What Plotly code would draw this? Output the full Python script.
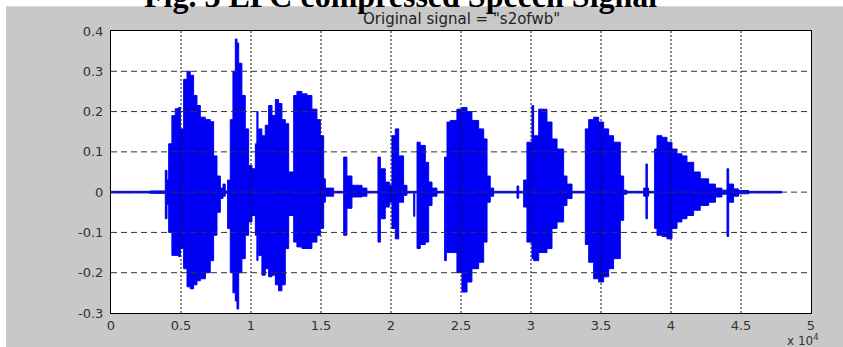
import plotly.graph_objects as go

# ---- data (envelope of the speech waveform) ----
sample_pos = [0, 2800, 3880, 4000, 4120, 4350, 4590, 4830, 4950, 5190, 5430, 5660, 5900, 6140,
              6380, 6740, 7090, 7330, 7570, 7810, 8000, 8160, 8330, 8520, 8710, 8880, 9000, 9120,
              9350, 9590, 9830, 10070, 10310, 10420, 10500, 10550, 10780, 11020, 11260, 11500,
              11740, 11970, 12210, 12450, 12690, 13050, 13280, 13640, 14000, 14350, 14710, 14950,
              15190, 15310, 15900, 16620, 16850, 17210, 17930, 18280, 19070, 19240, 19590, 19880,
              20070, 20310, 20550, 20900, 21140, 21620, 21700, 21860, 22090, 22450, 22690, 22930,
              23280, 23830, 23950, 24000, 24240, 24710, 25070, 25430, 25780, 26260, 26620, 26860,
              27090, 27330, 29000, 29120, 29475, 29710, 30070, 30190, 30550, 31140, 31500, 31860,
              32330, 32570, 32930, 33880, 34120, 34475, 34830, 35190, 35550, 35900, 36380, 36620,
              36850, 38050, 38210, 38310, 38400, 38830, 39000, 39355, 39710, 40070, 40430, 40780,
              41140, 41620, 42090, 42690, 43170, 43640, 44000, 44120, 44470, 44830, 45550, 47930]

upper_env = [0.002, 0.003, 0.054, 0.03, 0.12, 0.19, 0.207, 0.21, 0.157, 0.28, 0.30, 0.29, 0.24, 0.215,
             0.186, 0.18, 0.175, 0.09, 0.04, 0.01, 0.02, 0.003, 0.03, 0.18, 0.30, 0.38, 0.37, 0.32,
             0.24, 0.157, 0.066, 0.058, 0.12, 0.20, 0.12, 0.157, 0.14, 0.166, 0.215, 0.19,
             0.23, 0.22, 0.18, 0.17, 0.05, 0.24, 0.25, 0.244, 0.24, 0.206, 0.18, 0.14,
             0.033, 0.01, 0.002, 0.087, 0.04, 0.017, 0.01, 0.002, 0.087, 0.058, 0.025, 0.017,
             0.14, 0.157, 0.09, 0.017, 0.002, 0.002, 0.002, 0.124, 0.116, 0.074, 0.025, 0.01,
             0.002, 0.087, 0.01, 0.174, 0.178, 0.206, 0.21, 0.20, 0.178, 0.157, 0.132, 0.04,
             0.01, 0.002, 0.015, 0.002, 0.03, 0.124, 0.215, 0.14, 0.206, 0.174, 0.132, 0.107,
             0.04, 0.02, 0.002, 0.157, 0.18, 0.186, 0.174, 0.157, 0.14, 0.124, 0.04, 0.005,
             0.002, 0.01, 0.07, 0.01, 0.002, 0.107, 0.14, 0.136, 0.124, 0.107, 0.095, 0.09,
             0.074, 0.05, 0.033, 0.02, 0.01, 0.005, 0.058, 0.02, 0.008, 0.004, 0.002, 0.001]

lower_env = [-0.002, -0.003, -0.066, -0.03, -0.10, -0.157, -0.157, -0.16, -0.14, -0.19, -0.235, -0.24, -0.23, -0.22,
             -0.215, -0.20, -0.17, -0.107, -0.05, -0.016, -0.01, -0.003, -0.09, -0.20, -0.25, -0.27, -0.29, -0.20,
             -0.165, -0.107, -0.074, -0.058, -0.107, -0.17, -0.107, -0.157, -0.206, -0.19, -0.21, -0.206,
             -0.23, -0.245, -0.23, -0.14, -0.058, -0.124, -0.136, -0.14, -0.14, -0.124, -0.107, -0.09,
             -0.025, -0.01, -0.002, -0.107, -0.04, -0.012, -0.01, -0.002, -0.124, -0.066, -0.037, -0.025,
             -0.09, -0.116, -0.025, -0.008, -0.002, -0.06, -0.002, -0.14, -0.13, -0.124, -0.033, -0.01,
             -0.002, -0.17, -0.01, -0.15, -0.15, -0.20, -0.248, -0.223, -0.19, -0.174, -0.124, -0.025,
             -0.01, -0.002, -0.015, -0.002, -0.037, -0.124, -0.165, -0.17, -0.15, -0.14, -0.09, -0.074,
             -0.033, -0.016, -0.002, -0.13, -0.174, -0.215, -0.223, -0.21, -0.19, -0.165, -0.07, -0.005,
             -0.002, -0.01, -0.066, -0.01, -0.002, -0.09, -0.107, -0.11, -0.116, -0.09, -0.074, -0.066,
             -0.058, -0.045, -0.033, -0.025, -0.012, -0.005, -0.11, -0.025, -0.01, -0.004, -0.002, -0.001]

x_tick_vals = [0, 5000, 10000, 15000, 20000, 25000, 30000, 35000, 40000, 45000, 50000]
x_tick_text = ["0", "0.5", "1", "1.5", "2", "2.5", "3", "3.5", "4", "4.5", "5"]
y_tick_vals = [0.4, 0.3, 0.2, 0.1, 0.0, -0.1, -0.2, -0.3]
y_tick_text = ["0.4", "0.3", "0.2", "0.1", "0", "-0.1", "-0.2", "-0.3"]

chart_title = 'Original signal = "s2ofwb"'
caption = "Fig. 3 LPC compressed Speech Signal"

BLUE = "#0000f5"
GRAY_BG = "#c8c8c8"
TICK_FONT = dict(family="DejaVu Sans", size=13, color="#333333")

fig = go.Figure()
fig.add_trace(go.Scatter(x=sample_pos, y=lower_env, mode="lines",
                         line=dict(color=BLUE, width=1, shape="hv"),
                         hoverinfo="skip", showlegend=False))
fig.add_trace(go.Scatter(x=sample_pos, y=upper_env, mode="lines", fill="tonexty",
                         fillcolor=BLUE, line=dict(color=BLUE, width=1, shape="hv"),
                         hoverinfo="skip", showlegend=False))

shapes = []
# white margin at top and left of the grey figure area
shapes.append(dict(type="rect", xref="paper", yref="paper", x0=-0.3, x1=1.2,
                   y0=(312.7 - 6) / 282, y1=1.3, fillcolor="white", line=dict(width=0), layer="below"))
shapes.append(dict(type="rect", xref="paper", yref="paper", x0=-0.3, x1=(6 - 111) / 700,
                   y0=-0.3, y1=1.3, fillcolor="white", line=dict(width=0), layer="below"))
# grid drawn above the waveform
for xv in x_tick_vals[1:-1]:
    shapes.append(dict(type="line", xref="x", yref="paper", x0=xv, x1=xv, y0=0, y1=1,
                       line=dict(color="#111111", width=1, dash="2px,2px"), layer="above"))
for yv in y_tick_vals[1:-1]:
    shapes.append(dict(type="line", xref="paper", yref="y", x0=0, x1=1, y0=yv, y1=yv,
                       line=dict(color="#333333", width=1, dash="6px,4px"), layer="above"))

fig.update_layout(
    width=843, height=347,
    margin=dict(l=111, r=32, t=31, b=34),
    paper_bgcolor=GRAY_BG, plot_bgcolor="white",
    shapes=shapes,
    showlegend=False,
    xaxis=dict(range=[0, 50000], tickvals=x_tick_vals, ticktext=x_tick_text,
               showgrid=False, zeroline=False, showline=True, mirror=True,
               linecolor="black", linewidth=1, ticks="", tickfont=TICK_FONT),
    yaxis=dict(range=[-0.3, 0.4], tickvals=y_tick_vals, ticktext=y_tick_text,
               showgrid=False, zeroline=False, showline=True, mirror=True,
               linecolor="black", linewidth=1, ticks="", tickfont=TICK_FONT,
               ticklabelstandoff=4),
    annotations=[
        dict(text=chart_title, xref="paper", yref="paper", x=0.5, y=(312.7 - 19) / 282,
             xanchor="center", yanchor="middle", showarrow=False,
             font=dict(family="DejaVu Sans", size=15, color="#222222")),
        dict(text=caption, xref="paper", yref="paper", x=(400 - 111) / 700, y=(312.7 + 4) / 282,
             xanchor="center", yanchor="middle", showarrow=False,
             font=dict(family="Liberation Serif", size=32, color="black", weight="bold")),
        dict(text="x 10<sup>4</sup>", xref="paper", yref="paper", x=(821 - 111) / 700,
             y=(312.7 - 340) / 282, xanchor="right", yanchor="middle", showarrow=False,
             font=dict(family="DejaVu Sans", size=12, color="#333333")),
    ],
)

fig.write_html("out.html", config={"displayModeBar": False},
               post_script="document.body.style.margin='0';document.body.style.overflow='hidden';")
